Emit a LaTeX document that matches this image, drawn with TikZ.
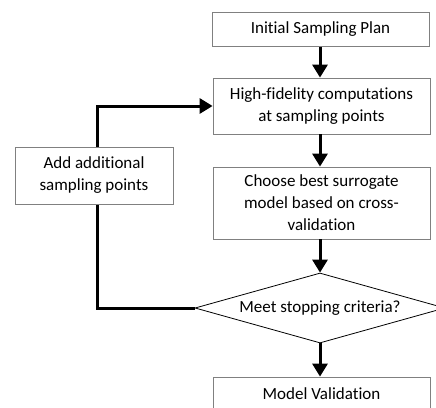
\documentclass[tikz,border=0pt]{standalone}
\usepackage{fontspec}
\setmainfont{Carlito}[Ligatures=NoCommon]
\usetikzlibrary{shapes.geometric,arrows.meta}
\pgfdeclarelayer{background}
\pgfsetlayers{background,main}
\begin{document}
\begin{tikzpicture}[x=1pt,y=-1pt,
  box/.style={draw=black!50,line width=0.8pt,fill=white,inner sep=2pt,align=center,
    font=\fontsize{17}{22}\selectfont},
  decision/.style={diamond,draw=black,line width=0.8pt,fill=white,inner sep=0pt,
    minimum width=250pt,minimum height=70pt,aspect=3.57,
    font=\fontsize{17}{22}\selectfont},
  flow/.style={line width=3pt,-{Triangle[length=13pt,width=15pt]}}]
\useasboundingbox (0,0) rectangle (436,407);
\clip (0,0) rectangle (436,407);

% process steps
\node[box,minimum width=217pt,minimum height=34pt] (plan) at (320.5,29.5) {Initial Sampling Plan};
\node[box,minimum width=217pt,minimum height=56pt] (hifi) at (321.5,106) {High-fidelity computations\\at sampling points};
\node[box,minimum width=217pt,minimum height=72pt] (choose) at (321.5,203) {Choose best surrogate\\model based on cross-\\validation};
\node[decision] (stop) at (320,308) {Meet stopping criteria?};
\node[box,minimum width=217pt,minimum height=34pt] (valid) at (321.5,394) {Model Validation};
\node[box,minimum width=158pt,minimum height=57pt] (add) at (94,175.5) {Add additional\\sampling points};

% main flow
\draw[flow] (plan.south -| 320,0) -- (hifi.north -| 320,0);
\draw[flow] (hifi.south -| 320,0) -- (choose.north -| 320,0);
\draw[flow] (choose.south -| 320,0) -- (stop.north);
\draw[flow] (stop.south) -- (valid.north -| stop.south);

% feedback loop, passing behind the side box
\coordinate (rail) at (97,0);
\begin{pgfonlayer}{background}
\draw[flow] (stop.west) -- (stop.west -| rail) -- (hifi.west -| rail) -- (hifi.west);
\end{pgfonlayer}
\end{tikzpicture}
\end{document}
